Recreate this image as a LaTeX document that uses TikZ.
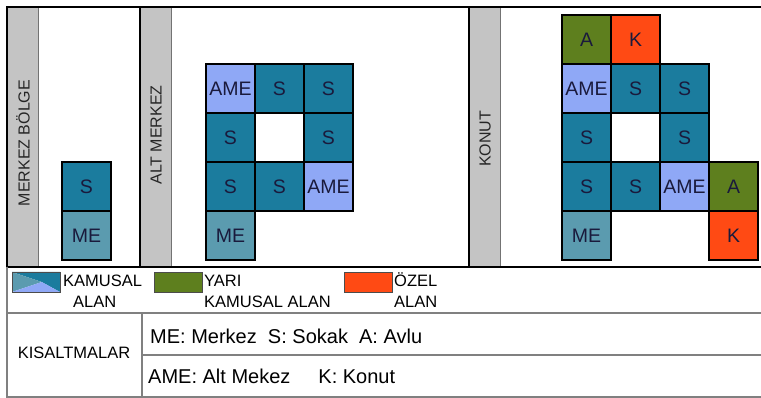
\documentclass[tikz,border=0pt]{standalone}
\usepackage{fontspec}
\setmainfont{Liberation Sans}
\usetikzlibrary{positioning,calc}
\definecolor{sokakc}{HTML}{1B7C9E}
\definecolor{merkezc}{HTML}{5B9BAF}
\definecolor{altc}{HTML}{8FA8F6}
\definecolor{avluc}{HTML}{5E7F1E}
\definecolor{konutc}{HTML}{FF4A14}
\definecolor{stripc}{HTML}{C4C4C4}
\definecolor{celltext}{HTML}{1A1A3C}

\begin{document}
\begin{tikzpicture}[x=1pt,y=-1pt,node distance=0pt,
cell/.style={draw=black,line width=1.6pt,minimum size=49pt,inner sep=0pt,outer sep=0pt,text=celltext,font=\fontsize{19.5}{19.5}\selectfont},
sokak/.style={cell,fill=sokakc},
merkez/.style={cell,fill=merkezc},
altm/.style={cell,fill=altc},
avlu/.style={cell,fill=avluc},
konut/.style={cell,fill=konutc},
striplabel/.style={rotate=90,inner sep=0pt,text=black!85,font=\fontsize{16}{16}\selectfont},
swatch/.style={draw=black!70,line width=.8pt,minimum width=48pt,minimum height=20pt,inner sep=0pt,outer sep=0pt},
legtext/.style={anchor=base west,inner sep=0pt,align=left,font=\fontsize{16.5}{21.5}\selectfont},
abbr/.style={anchor=base west,inner sep=0pt,font=\fontsize{20}{20}\selectfont}]
\useasboundingbox(0,0)rectangle(761,398);
% gray side strips
\fill[stripc](8,8)rectangle(38,266);\draw[black!55,line width=.8pt](38,8)--(38,266);
\fill[stripc](141,8)rectangle(171,266);\draw[black!55,line width=.8pt](171,8)--(171,266);
\fill[stripc](470,8)rectangle(500,266);\draw[black!55,line width=.8pt](500,8)--(500,266);
\node[striplabel](lblm)at(23,143){MERKEZ BÖLGE};
\node[striplabel](lbla)at(156,135){ALT MERKEZ};
\node[striplabel](lblk)at(485,139){KONUT};
% frame
\draw[line width=2pt](761,7)--(7,7)--(7,267)--(761,267);
\draw[line width=2pt](139.5,7)--(139.5,267);
\draw[line width=2pt](469,7)--(469,267);
\draw[black!50,line width=1.2pt](7,267)--(7,397)--(761,397);
\draw[black!50,line width=1.2pt](7,313)--(761,313);
\draw[black!50,line width=1.2pt](142,355)--(761,355);
\draw[black!50,line width=1.2pt](142,313)--(142,397);
% merkez bolge
\node[sokak,anchor=north west](m1)at(62,162){S};
\node[merkez,below=of m1](m2){ME};
% alt merkez
\node[altm,anchor=north west](a11)at(206,64){AME};
\node[sokak,right=of a11](a12){S};
\node[sokak,right=of a12](a13){S};
\node[sokak,below=of a11](a21){S};
\node[sokak,below=of a13](a23){S};
\node[sokak,below=of a21](a31){S};
\node[sokak,right=of a31](a32){S};
\node[altm,right=of a32](a33){AME};
\node[merkez,below=of a31](a41){ME};
% konut
\node[avlu,anchor=north west](k01)at(562,15){A};
\node[konut,right=of k01](k02){K};
\node[altm,below=of k01](k11){AME};
\node[sokak,right=of k11](k12){S};
\node[sokak,right=of k12](k13){S};
\node[sokak,below=of k11](k21){S};
\node[sokak,below=of k13](k23){S};
\node[sokak,below=of k21](k31){S};
\node[sokak,right=of k31](k32){S};
\node[altm,right=of k32](k33){AME};
\node[avlu,right=of k33](k34){A};
\node[merkez,below=of k31](k41){ME};
\node[konut,below=of k34](k44){K};
% legend
\node[swatch,anchor=north west](kam)at(12,272){};
\coordinate(kamtip)at($(kam.west)!.62!(kam.east)$);
\fill[sokakc](kam.north west)--(kam.north east)--(kam.south east)--(kamtip)--cycle;
\fill[merkezc](kam.north west)--(kamtip)--(kam.south west)--cycle;
\fill[altc](kam.south west)--(kamtip)--(kam.south east)--cycle;
\node[swatch](kamb)at(kam){};
\node[swatch,fill=avluc,anchor=north west](yari)at(154,272){};
\node[swatch,fill=konutc,anchor=north west](ozel)at(344,272){};
\node[legtext](kamt)at(63,307.7){KAMUSAL\\\hspace*{10pt}ALAN};
\node[legtext](yarit)at(204,307.7){YARI\\KAMUSAL ALAN};
\node[legtext](ozelt)at(394,307.7){ÖZEL\\ALAN};
% abbreviations
\node[anchor=base,inner sep=0pt,font=\fontsize{16.5}{16.5}\selectfont](kis)at(74,359){KISALTMALAR};
\node[abbr](row1)at(150,343.3){ME: Merkez\ \ S: Sokak\ \ A: Avlu};
\node[abbr](row2)at(148,383.3){AME: Alt Mekez\hspace{28pt}K: Konut};
\end{tikzpicture}
\end{document}
